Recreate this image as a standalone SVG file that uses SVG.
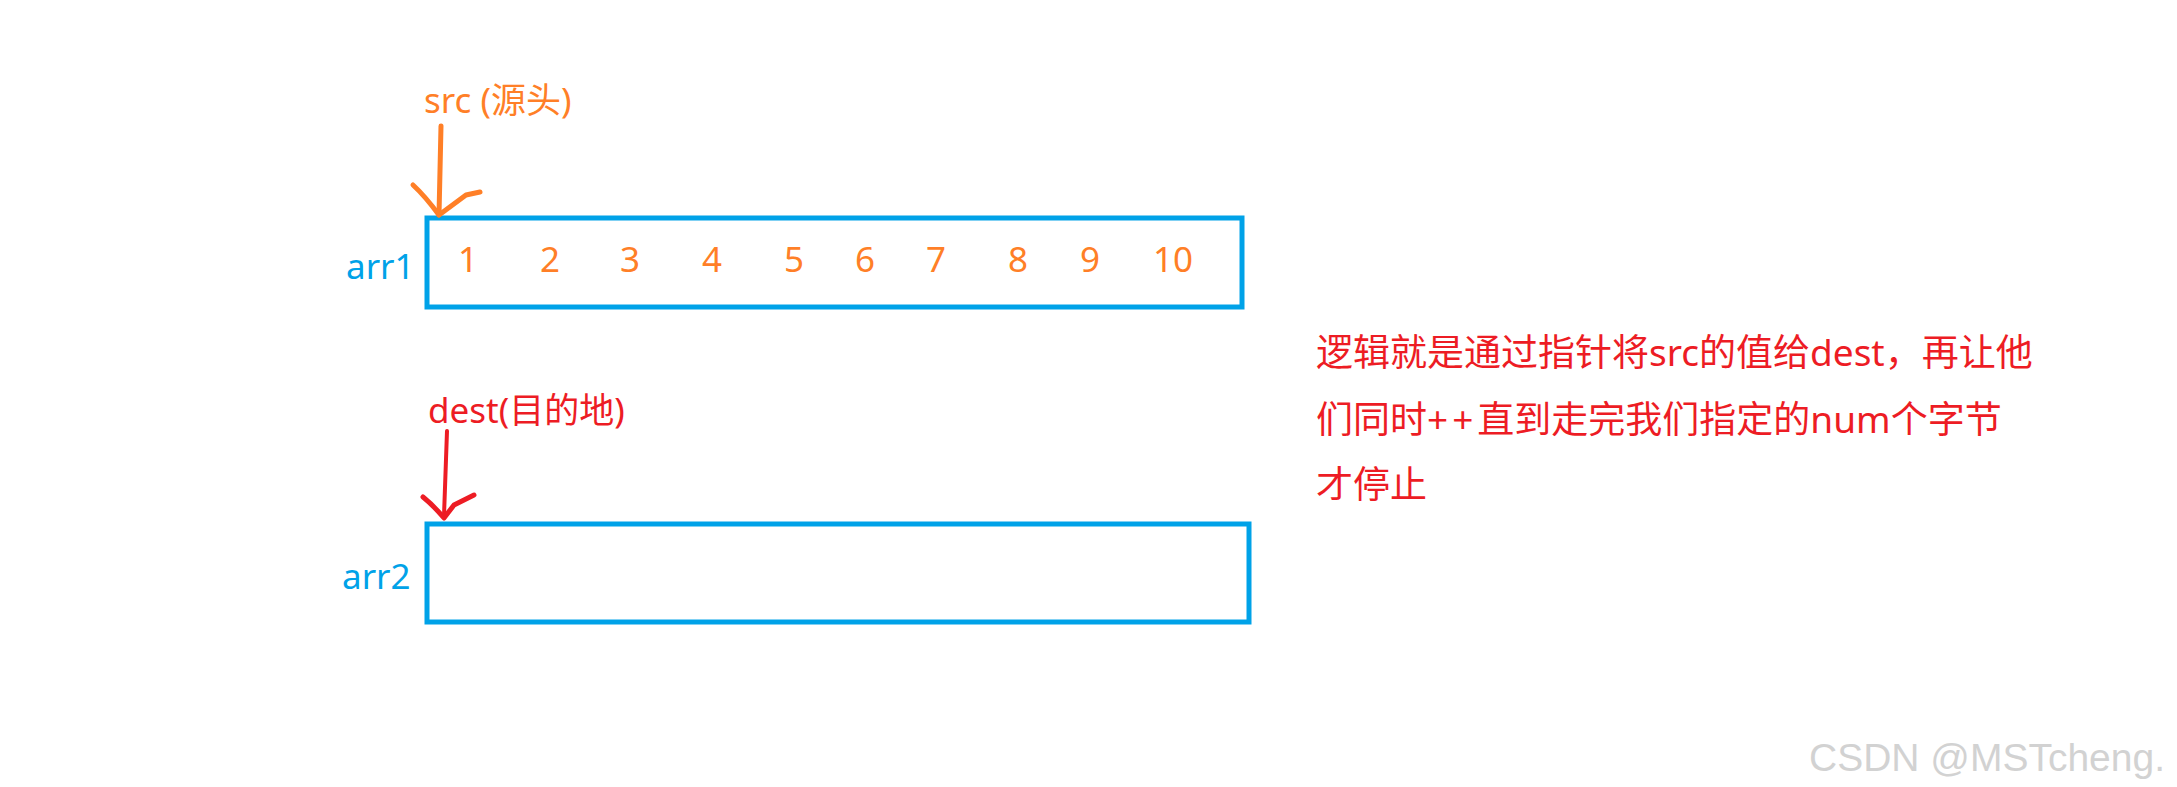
<svg xmlns="http://www.w3.org/2000/svg" width="2177" height="787" viewBox="0 0 2177 787">
<style>
text{font-family:"Noto Sans","Noto Sans CJK SC",sans-serif;font-size:35px}
.blue{fill:#00a2e8}
.orange{fill:#ff7f27}
.red{fill:#ed1c24}
.box{fill:none;stroke:#00a2e8;stroke-width:5}
.num{text-anchor:middle}
.note{font-size:37px}
.wm{font-family:"Liberation Sans",Arial,sans-serif;font-size:39px;fill:#d2d2d2}
.pen{fill:none;stroke-linecap:round;stroke-linejoin:round}
</style>
<rect width="2177" height="787" fill="#fff"/>
<g id="arr1">
<rect class="box" x="427" y="218" width="815" height="89"/>
<text class="blue" x="346" y="279">arr1</text>
<g class="orange num">
<text x="468" y="272">1</text>
<text x="550" y="272">2</text>
<text x="630" y="272">3</text>
<text x="712" y="272">4</text>
<text x="794" y="272">5</text>
<text x="865" y="272">6</text>
<text x="936" y="272">7</text>
<text x="1018" y="272">8</text>
<text x="1090" y="272">9</text>
<text x="1173" y="272">10</text>
</g>
</g>
<g id="arr2">
<rect class="box" x="427" y="524" width="822" height="98"/>
<text class="blue" x="342" y="589">arr2</text>
</g>
<g id="src">
<text class="orange" x="424" y="113">src (源头)</text>
</g>
<g id="dest">
<text class="red" x="428" y="423">dest(目的地)</text>
</g>
<g id="note" class="red">
<text class="note" x="1316" y="366">逻辑就是通过指针将src的值给dest，再让他</text>
<text class="note" x="1316" y="433">们同时<tspan letter-spacing="4">++</tspan>直到走完我们指定的num个字节</text>
<text class="note" x="1316" y="498">才停止</text>
</g>
<g id="connectors">
<path class="pen" stroke="#ff7f27" stroke-width="5" d="M441,126 L439,215"/>
<path class="pen" stroke="#ff7f27" stroke-width="5" d="M413,185 Q425,196 439,215 L466,195 L480,192"/>
<path class="pen" stroke="#ed1c24" stroke-width="4" d="M447,431 L444,516"/>
<path class="pen" stroke="#ed1c24" stroke-width="5" d="M423,497 Q433,505 444,518 L454,505 L474,495"/>
</g>
<g id="watermark">
<text class="wm" x="1809" y="771">CSDN @MSTcheng.</text>
</g>
</svg>
